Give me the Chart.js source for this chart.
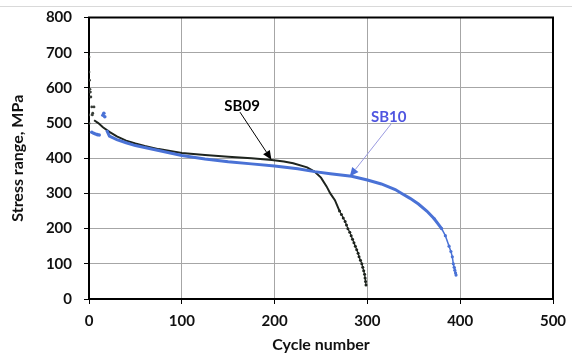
<!DOCTYPE html>
<html>
<head>
<meta charset="utf-8">
<script src="https://cdn.jsdelivr.net/npm/chart.js@4"></script>
<style>
  html, body { margin: 0; padding: 0; background: #fff; }
  #wrap { position: relative; width: 572px; height: 354px; }
  #rule { position: absolute; left: 0; top: 6px; width: 572px; height: 1px; background: #d9d9d9; }
</style>
</head>
<body>
<div id="wrap">
  <canvas id="c" width="572" height="354"></canvas>
  <div id="rule"></div>
</div>
<script>
// Stress range vs. cycle number for specimens SB09 and SB10
const xTicks = [0, 100, 200, 300, 400, 500];
const yTicks = [0, 100, 200, 300, 400, 500, 600, 700, 800];

// SB09: first cycles (scattered readings) and main record
const sb09StartCycles = [0, 0, 0.5, 1, 1.5, 2, 3, 5.4, 4, 0, 3.6, 0];
const sb09StartStress = [688, 645, 622, 596, 588, 574, 546, 546, 528, 523, 523, 499];
const sb09Cycles = [5.5, 10, 15, 22, 30, 40, 50, 60, 75, 100, 125, 150, 175, 197, 210, 220, 235, 243, 250, 256, 260, 265, 270, 272, 274, 276, 277.5, 279, 281, 282.5, 284, 285.5, 287, 288.5, 290, 291, 292.5, 294, 295, 296, 297, 297.5, 298, 298.5];
const sb09Stress = [508, 500, 488, 475, 462, 450, 442, 435, 426, 415, 409, 404, 400, 395, 391, 386, 374, 362, 345, 320, 300, 281, 250, 240, 230, 220, 210, 200, 190, 180, 170, 160, 150, 140, 130, 120, 110, 100, 90, 80, 70, 60, 50, 40];

// SB10: first cycles and main record
const sb10StartCycles = [3, 5, 7, 9, 11, 15, 16, 17];
const sb10StartStress = [474, 471, 469, 467, 466, 522, 528, 518];
const sb10Cycles = [19, 22, 30, 40, 50, 75, 100, 125, 150, 175, 200, 225, 243, 260, 283, 300, 315, 330, 337, 346, 355, 364, 372, 380, 384, 388, 390, 391.5, 392.6, 393.5, 394.2, 395, 395.5];
const sb10Stress = [480, 463, 453, 444, 436, 422, 408, 398, 390, 384, 378, 370, 362, 356, 349, 338, 327, 311, 300, 286, 270, 250, 228, 200, 180, 150, 135, 120, 100, 90, 82, 74, 68];

const pts = (xs, ys) => xs.map((x, i) => ({ x, y: ys[i] }));

const BLACK = '#1e241e';
const BLUE = '#4a72d6';

// Callout labels with arrows, placed in data units
const callouts = [
  { text: 'SB09', color: '#000', at: [165, 548], from: [162.7, 531], to: [196.6, 396], line: '#000', head: '#000' },
  { text: 'SB10', color: '#4f55e0', at: [323, 516], from: [326, 499], to: [281, 348], line: '#9a9ae0', head: '#4a6fd8' }
];

const frameAndCallouts = {
  id: 'frameAndCallouts',
  beforeDatasetsDraw(chart) {
    const { ctx, chartArea: a } = chart;
    ctx.save();
    ctx.strokeStyle = '#000';
    ctx.lineWidth = 2;
    ctx.strokeRect(a.left, a.top, a.right - a.left, a.bottom - a.top);
    ctx.restore();
  },
  afterDatasetsDraw(chart) {
    const { ctx } = chart;
    const sx = chart.scales.x, sy = chart.scales.y;
    ctx.save();
    callouts.forEach(c => {
      const x0 = sx.getPixelForValue(c.from[0]), y0 = sy.getPixelForValue(c.from[1]);
      const x1 = sx.getPixelForValue(c.to[0]), y1 = sy.getPixelForValue(c.to[1]);
      const ang = Math.atan2(y1 - y0, x1 - x0);
      const hl = 9, hw = 4;
      const bx = x1 - hl * Math.cos(ang), by = y1 - hl * Math.sin(ang);
      ctx.strokeStyle = c.line;
      ctx.lineWidth = 1;
      ctx.beginPath();
      ctx.moveTo(x0, y0);
      ctx.lineTo(bx, by);
      ctx.stroke();
      ctx.fillStyle = c.head;
      ctx.beginPath();
      ctx.moveTo(x1, y1);
      ctx.lineTo(bx + hw * Math.sin(ang), by - hw * Math.cos(ang));
      ctx.lineTo(bx - hw * Math.sin(ang), by + hw * Math.cos(ang));
      ctx.closePath();
      ctx.fill();
      ctx.fillStyle = c.color;
      ctx.font = 'bold 15px Lato';
      ctx.textAlign = 'center';
      ctx.textBaseline = 'middle';
      ctx.fillText(c.text, sx.getPixelForValue(c.at[0]), sy.getPixelForValue(c.at[1]));
    });
    ctx.restore();
  }
};

const tickFont = { family: 'Lato', size: 15, weight: 'bold' };
const titleFont = { family: 'Lato', size: 16, weight: 'bold' };

new Chart(document.getElementById('c'), {
  type: 'scatter',
  data: {
    datasets: [
      { data: pts(sb10StartCycles, sb10StartStress), showLine: false, pointRadius: 1.8, pointBorderWidth: 0, backgroundColor: BLUE, borderColor: BLUE },
      { data: pts(sb10Cycles, sb10Stress), showLine: true, borderColor: BLUE, backgroundColor: BLUE, borderWidth: 3,
        segment: { borderWidth: s => (s.p1.parsed.y < 200 ? 1.5 : 3) },
        pointRadius: ctx => (ctx.raw && ctx.raw.y < 230 ? 1.6 : 0), pointBorderWidth: 0 },
      { data: pts(sb09StartCycles, sb09StartStress), showLine: false, pointRadius: 1.4, pointBorderWidth: 0, backgroundColor: '#3a3f3a', borderColor: '#3a3f3a' },
      { data: pts(sb09Cycles, sb09Stress), showLine: true, borderColor: BLACK, backgroundColor: BLACK, borderWidth: 2,
        segment: { borderWidth: s => (s.p1.parsed.y < 250 ? 1.2 : 2) },
        pointRadius: ctx => (ctx.raw && ctx.raw.y < 260 ? 1.5 : 0), pointBorderWidth: 0 }
    ]
  },
  options: {
    responsive: false,
    animation: false,
    layout: { padding: { top: 17.5, right: 19, left: 0, bottom: 0 } },
    plugins: { legend: { display: false }, tooltip: { enabled: false } },
    scales: {
      x: {
        type: 'linear', min: 0, max: 500,
        afterBuildTicks: s => { s.ticks = xTicks.map(v => ({ value: v })); },
        afterFit: s => { s.height = 55; s.paddingLeft = 0; s.paddingRight = 0; },
        ticks: { font: tickFont, color: '#111', padding: 8 },
        grid: { color: '#a6a6a6', tickColor: '#000', tickLength: 5, lineWidth: 1 },
        border: { display: false },
        title: { display: true, text: 'Cycle number', color: '#111', font: titleFont, padding: { top: 0, bottom: 0 } }
      },
      y: {
        type: 'linear', min: 0, max: 800,
        afterBuildTicks: s => { s.ticks = yTicks.map(v => ({ value: v })); },
        afterFit: s => { s.width = 89; s.paddingTop = 0; s.paddingBottom = 0; },
        ticks: { font: tickFont, color: '#111', padding: 12 },
        grid: { color: '#a6a6a6', tickColor: '#000', tickLength: 5, lineWidth: 1 },
        border: { display: false },
        title: { display: true, text: 'Stress range, MPa', color: '#111', font: titleFont, padding: { top: 8, bottom: 0 } }
      }
    }
  },
  plugins: [frameAndCallouts]
});
</script>
</body>
</html>
